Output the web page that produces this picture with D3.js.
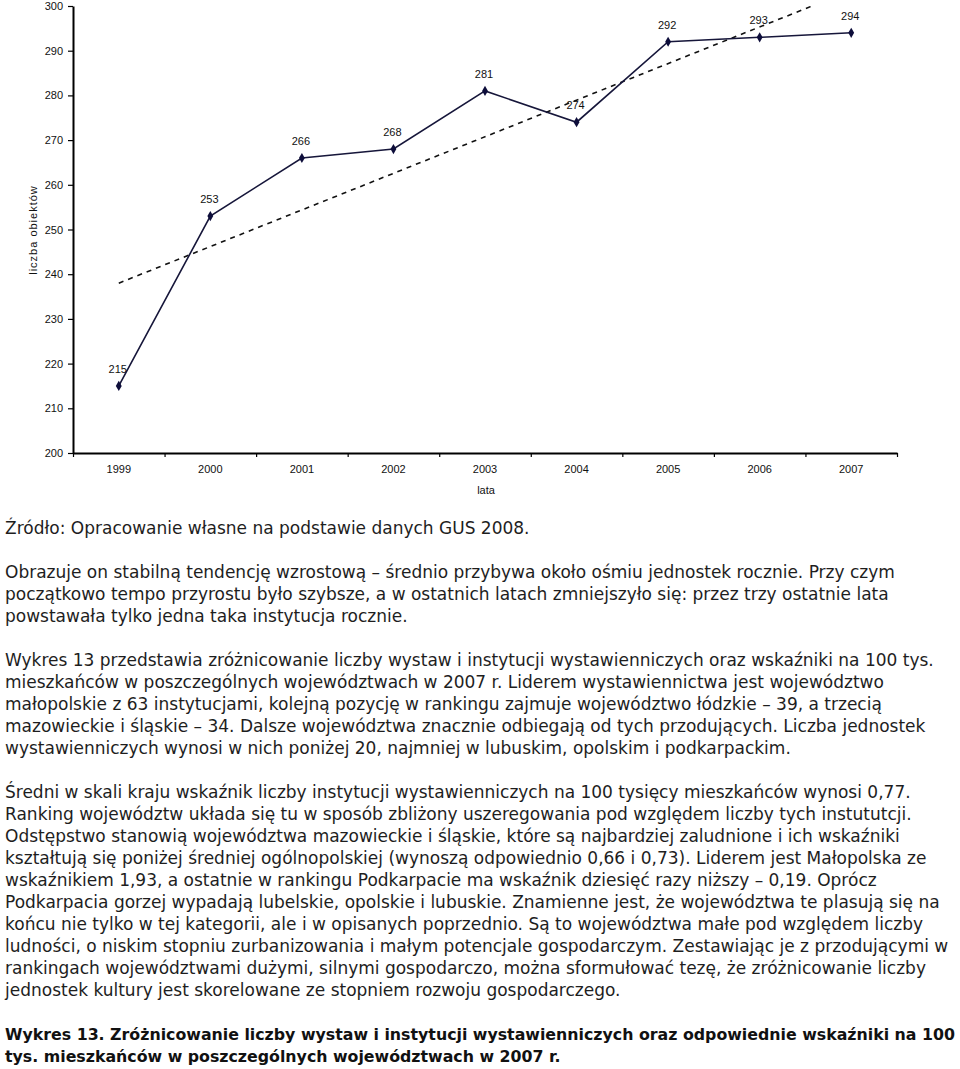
<!DOCTYPE html>
<html>
<head>
<meta charset="utf-8">
<script src="https://cdn.jsdelivr.net/npm/d3@7"></script>
<style>
  body { margin: 0; background: #fff; }
  svg { display: block; }
</style>
</head>
<body>
<svg id="svg"></svg>
<script>
var szerokosc = 960;
var wysokosc = 1069;

// dane wykresu
var lata = ["1999", "2000", "2001", "2002", "2003", "2004", "2005", "2006", "2007"];
var liczbaObiektow = [215, 253, 266, 268, 281, 274, 292, 293, 294];
var etykiety = ["215", "253", "266", "268", "281", "274", "292", "293", "294"];
var trendLata = ["1999", "2007"];
var trendWartosci = [238, 303.5];
var yTicki = [200, 210, 220, 230, 240, 250, 260, 270, 280, 290, 300];

var tytulY = "liczba obiektów";
var tytulX = "lata";

var akapity = [
    ["Źródło: Opracowanie własne na podstawie danych GUS 2008."],
    ["Obrazuje on stabilną tendencję wzrostową – średnio przybywa około ośmiu jednostek rocznie. Przy czym",
     "początkowo tempo przyrostu było szybsze, a w ostatnich latach zmniejszyło się: przez trzy ostatnie lata",
     "powstawała tylko jedna taka instytucja rocznie."],
    ["Wykres 13 przedstawia zróżnicowanie liczby wystaw i instytucji wystawienniczych oraz wskaźniki na 100 tys.",
     "mieszkańców w poszczególnych województwach w 2007 r. Liderem wystawiennictwa jest województwo",
     "małopolskie z 63 instytucjami, kolejną pozycję w rankingu zajmuje województwo łódzkie – 39, a trzecią",
     "mazowieckie i śląskie – 34. Dalsze województwa znacznie odbiegają od tych przodujących. Liczba jednostek",
     "wystawienniczych wynosi w nich poniżej 20, najmniej w lubuskim, opolskim i podkarpackim."],
    ["Średni w skali kraju wskaźnik liczby instytucji wystawienniczych na 100 tysięcy mieszkańców wynosi 0,77.",
     "Ranking województw układa się tu w sposób zbliżony uszeregowania pod względem liczby tych instututcji.",
     "Odstępstwo stanowią województwa mazowieckie i śląskie, które są najbardziej zaludnione i ich wskaźniki",
     "kształtują się poniżej średniej ogólnopolskiej (wynoszą odpowiednio 0,66 i 0,73). Liderem jest Małopolska ze",
     "wskaźnikiem 1,93, a ostatnie w rankingu Podkarpacie ma wskaźnik dziesięć razy niższy – 0,19. Oprócz",
     "Podkarpacia gorzej wypadają lubelskie, opolskie i lubuskie. Znamienne jest, że województwa te plasują się na",
     "końcu nie tylko w tej kategorii, ale i w opisanych poprzednio. Są to województwa małe pod względem liczby",
     "ludności, o niskim stopniu zurbanizowania i małym potencjale gospodarczym. Zestawiając je z przodującymi w",
     "rankingach województwami dużymi, silnymi gospodarczo, można sformułować tezę, że zróżnicowanie liczby",
     "jednostek kultury jest skorelowane ze stopniem rozwoju gospodarczego."]
];
var podpis = [
    "Wykres 13. Zróżnicowanie liczby wystaw i instytucji wystawienniczych oraz odpowiednie wskaźniki na 100",
    "tys. mieszkańców w poszczególnych województwach w 2007 r."
];

var mLewy = 73, mPrawy = 897, mGora = 6, mDol = 453;

function draw() {
    var svg = d3.select("#svg");
    svg.attr("width", szerokosc).attr("height", wysokosc);

    var x = d3.scaleBand().domain(lata).range([mLewy, mPrawy]);
    var xPos = d3.scaleLinear().domain([0, lata.length]).range([mLewy, mPrawy]);
    var y = d3.scaleLinear().domain([200, 300]).range([mDol, mGora]);

    drawAxes(svg, x, xPos, y);
    drawTrend(svg, x, y);
    drawSeries(svg, x, y);
    drawText(svg);
}

function drawAxes(svg, x, xPos, y) {
    var fontOs = "Liberation Sans, Arial, sans-serif";

    var yAxis = svg.append("g")
        .attr("transform", "translate(" + mLewy + ",0)")
        .call(d3.axisLeft(y).tickValues(yTicki).tickSize(5).tickPadding(5).tickSizeOuter(0));
    yAxis.select(".domain").attr("stroke", "#000").attr("stroke-width", 2);
    yAxis.selectAll(".tick line").attr("stroke", "#000").attr("stroke-width", 1.2);
    yAxis.selectAll("text").style("font-family", fontOs).style("font-size", "11px").attr("fill", "#111");

    // ticki na granicach lat
    var xTicks = svg.append("g")
        .attr("transform", "translate(0," + mDol + ")")
        .call(d3.axisBottom(xPos).tickValues(d3.range(lata.length + 1)).tickFormat("").tickSize(4).tickSizeOuter(0));
    xTicks.select(".domain").attr("stroke", "#000").attr("stroke-width", 2);
    xTicks.selectAll(".tick line").attr("stroke", "#000").attr("stroke-width", 1.2);

    var xLabels = svg.append("g")
        .attr("transform", "translate(0," + mDol + ")")
        .call(d3.axisBottom(x).tickSize(0).tickPadding(12));
    xLabels.select(".domain").remove();
    xLabels.selectAll("text").style("font-family", fontOs).style("font-size", "11px").attr("fill", "#111");

    svg.append("text")
        .attr("x", (mLewy + mPrawy) / 2 + 1)
        .attr("y", 494)
        .attr("text-anchor", "middle")
        .style("font-family", fontOs)
        .style("font-size", "11px")
        .attr("fill", "#111")
        .text(tytulX);

    svg.append("text")
        .attr("transform", "translate(37,230) rotate(-90)")
        .attr("text-anchor", "middle")
        .style("font-family", fontOs)
        .style("font-size", "11px")
        .style("letter-spacing", "1px")
        .attr("fill", "#111")
        .text(tytulY);
}

function drawTrend(svg, x, y) {
    svg.append("clipPath").attr("id", "obszar")
        .append("rect")
        .attr("x", mLewy).attr("y", mGora)
        .attr("width", mPrawy - mLewy).attr("height", mDol - mGora);

    var linia = d3.line()
        .x(function (d, i) { return x(trendLata[i]) + x.bandwidth() / 2; })
        .y(function (d) { return y(d); });

    svg.append("path")
        .attr("d", linia(trendWartosci))
        .attr("clip-path", "url(#obszar)")
        .style("fill", "none")
        .style("stroke", "#111")
        .style("stroke-width", "1.6px")
        .style("stroke-dasharray", "5,5");
}

function drawSeries(svg, x, y) {
    var cx = function (i) { return x(lata[i]) + x.bandwidth() / 2; };

    var linia = d3.line()
        .x(function (d, i) { return cx(i); })
        .y(function (d) { return y(d); });

    svg.append("path")
        .attr("d", linia(liczbaObiektow))
        .style("fill", "none")
        .style("stroke", "#16163a")
        .style("stroke-width", "1.6px");

    liczbaObiektow.forEach(function (v, i) {
        svg.append("path")
            .attr("d", d3.symbol().type(d3.symbolDiamond).size(30)())
            .attr("transform", "translate(" + cx(i) + "," + y(v) + ")")
            .style("fill", "#0d0d3a");

        svg.append("text")
            .attr("x", cx(i) - 1)
            .attr("y", y(v) - 13)
            .attr("text-anchor", "middle")
            .style("font-family", "Liberation Sans, Arial, sans-serif")
            .style("font-size", "11px")
            .attr("fill", "#111")
            .text(etykiety[i]);
    });
}

function drawText(svg) {
    var font = "DejaVu Sans, sans-serif";
    var baza = [534, 578, 666, 798];
    akapity.forEach(function (akapit, a) {
        akapit.forEach(function (linia, j) {
            svg.append("text")
                .attr("x", 5)
                .attr("y", baza[a] + j * 22)
                .style("font-family", font)
                .style("font-size", "17px")
                .attr("fill", "#1e1e1e")
                .text(linia);
        });
    });
    podpis.forEach(function (linia, j) {
        svg.append("text")
            .attr("x", 5)
            .attr("y", 1040 + j * 22)
            .style("font-family", font)
            .style("font-size", "15.8px")
            .style("font-weight", "bold")
            .attr("fill", "#111")
            .text(linia);
    });
}

draw();
</script>
</body>
</html>
